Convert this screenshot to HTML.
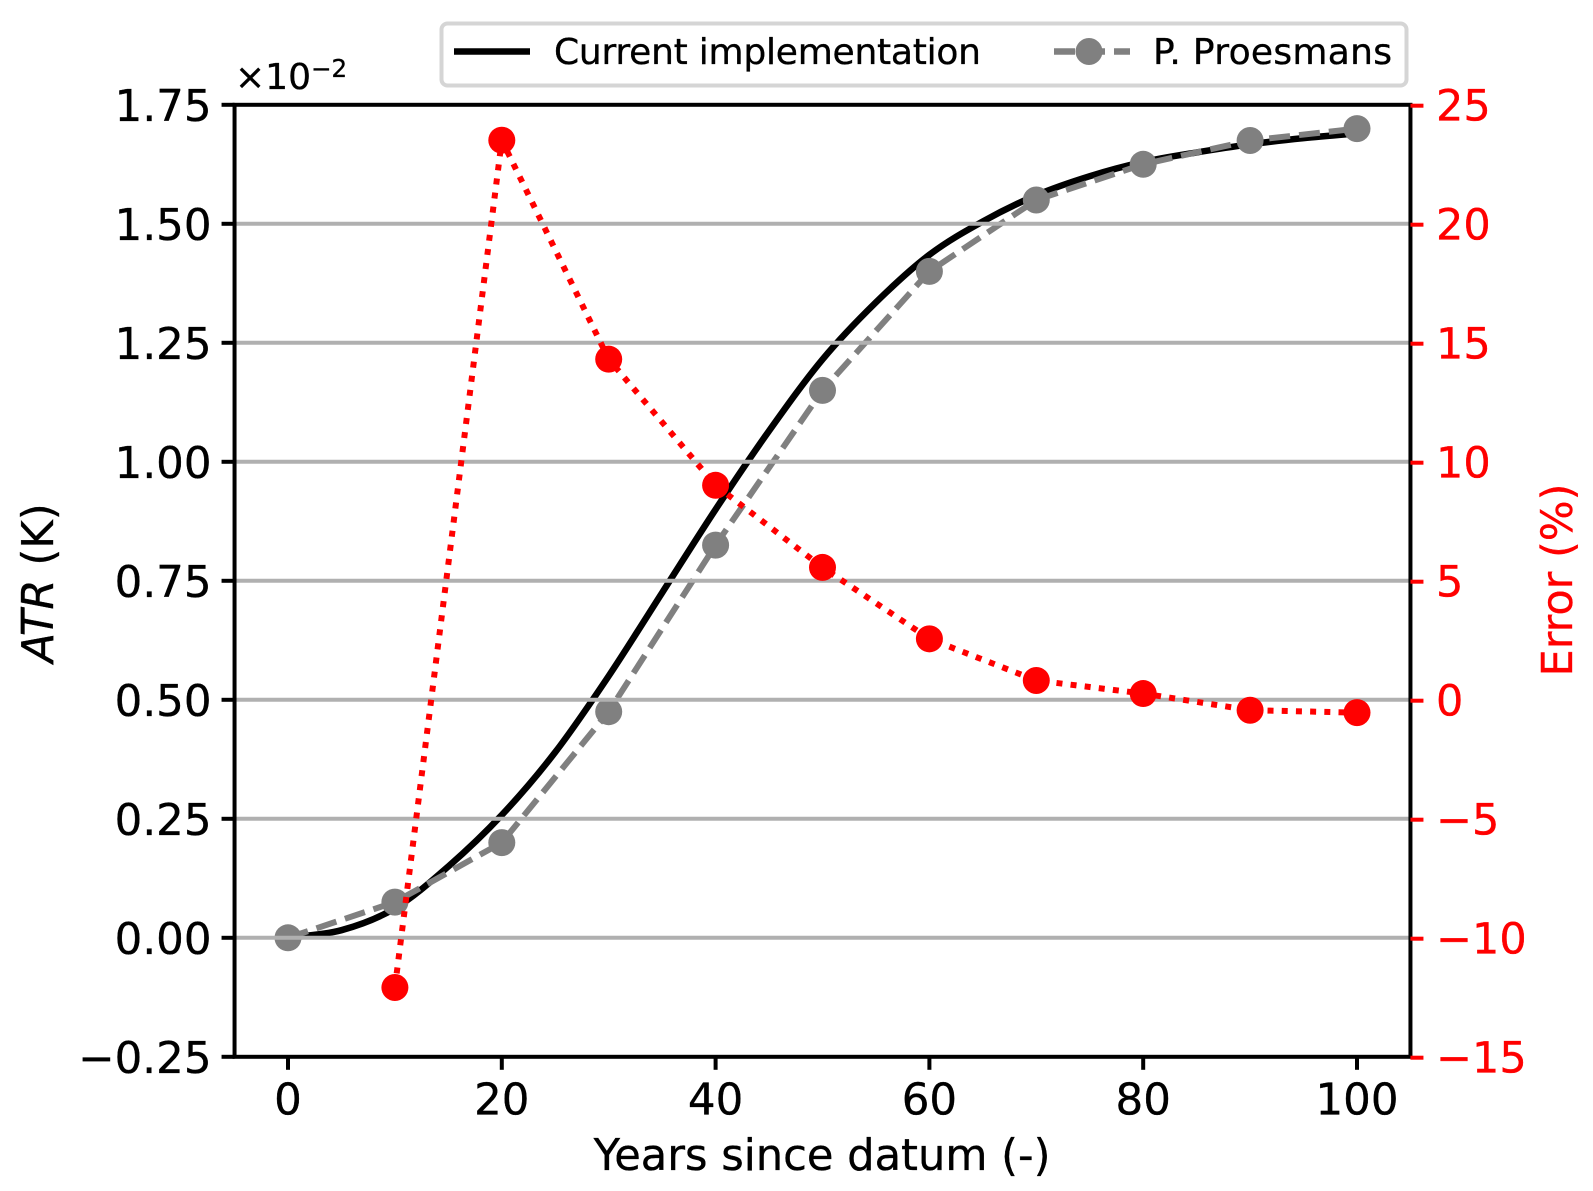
<!DOCTYPE html>
<html><head><meta charset="utf-8"><title>ATR chart</title>
<style>
html,body{margin:0;padding:0;background:#fff}
svg{display:block}
text{font-family:"DejaVu Sans","Liberation Sans",sans-serif;stroke-width:.35px}
</style></head>
<body>
<svg id="chart" xmlns="http://www.w3.org/2000/svg" width="1593" height="1191" viewBox="0 0 1593 1191">
<rect width="1593" height="1191" fill="#fff"/>
<g>
<rect x="441.5" y="23.5" width="965" height="62" rx="6" fill="#fff" stroke="#d5d5d5" stroke-width="4"/>
<line x1="454" x2="530" y1="51.5" y2="51.5" stroke="#000" stroke-width="6.5"/>
<text x="554" y="64" font-size="36" fill="#000" stroke="#000" textLength="427">Current implementation</text>
<line x1="1054" x2="1130" y1="51.5" y2="51.5" stroke="#808080" stroke-width="6.5" stroke-dasharray="21 9"/>
<circle cx="1089" cy="51.5" r="13.5" fill="#808080"/>
<text x="1153" y="64" font-size="36" fill="#000" stroke="#000" textLength="239">P. Proesmans</text>
</g>
<text x="235" y="89" font-size="36" fill="#000" stroke="#000">×10<tspan dy="-12" font-size="24.5">−2</tspan></text>
<text transform="translate(53,583) rotate(-90)" text-anchor="middle" font-size="43.4" fill="#000" stroke="#000"><tspan font-style="italic">ATR</tspan> (K)</text>
<text transform="translate(1572,580) rotate(-90)" text-anchor="middle" font-size="43" fill="#f00" stroke="#f00">Error (%)</text>
<text x="822" y="1170" text-anchor="middle" font-size="43.2" fill="#000" stroke="#000">Years since datum (-)</text>
</svg>
<script>
const xTicks = [0, 20, 40, 60, 80, 100];
const yTicks = [-0.25, 0, 0.25, 0.5, 0.75, 1, 1.25, 1.5, 1.75];
const yTickLabels = ["−0.25", "0.00", "0.25", "0.50", "0.75", "1.00", "1.25", "1.50", "1.75"];
const y2Ticks = [-15, -10, -5, 0, 5, 10, 15, 20, 25];
const y2TickLabels = ["−15", "−10", "−5", "0", "5", "10", "15", "20", "25"];
const currentYears = [0, 5, 10, 15, 20, 25, 30, 35, 40, 45, 50, 55, 60, 65, 70, 75, 80, 85, 90, 95, 100];
const currentValues = [0, 0.016, 0.062, 0.15, 0.258, 0.39, 0.55, 0.725, 0.9, 1.065, 1.215, 1.335, 1.435, 1.505, 1.56, 1.6, 1.63, 1.65, 1.667, 1.68, 1.69];
const proesmansYears = [0, 10, 20, 30, 40, 50, 60, 70, 80, 90, 100];
const proesmansValues = [0, 0.075, 0.2, 0.475, 0.825, 1.15, 1.4, 1.55, 1.625, 1.675, 1.7];
const errorYears = [10, 20, 30, 40, 50, 60, 70, 80, 90, 100];
const errorValues = [-12.05, 23.55, 14.35, 9.05, 5.6, 2.6, 0.85, 0.3, -0.4, -0.5];

const svg = document.getElementById('chart');
const NS = 'http://www.w3.org/2000/svg';
const X0 = 288, XPX = 10.69;
const YZERO = 937.8, YPX = 476;
const Y2ZERO = 700.7, Y2PX = 23.8;
const xScale = v => X0 + v * XPX;
const yScale = v => YZERO - v * YPX;
const y2Scale = v => Y2ZERO - v * Y2PX;
const LEFT = xScale(-5), RIGHT = xScale(105), TOP = yScale(1.75), BOTTOM = yScale(-0.25);

function make(tag, attrs, parent) {
  const el = document.createElementNS(NS, tag);
  for (const k in attrs) el.setAttribute(k, attrs[k]);
  (parent || svg).appendChild(el);
  return el;
}
function smoothPath(xs, ys) {
  const p = xs.map((x, i) => [xScale(x), yScale(ys[i])]);
  let d = 'M' + p[0][0] + ' ' + p[0][1];
  for (let i = 0; i < p.length - 1; i++) {
    const a = p[Math.max(i - 1, 0)], b = p[i], c = p[i + 1], e = p[Math.min(i + 2, p.length - 1)];
    d += ' C' + (b[0] + (c[0] - a[0]) / 6) + ' ' + (b[1] + (c[1] - a[1]) / 6) + ' ' +
      (c[0] - (e[0] - b[0]) / 6) + ' ' + (c[1] - (e[1] - b[1]) / 6) + ' ' + c[0] + ' ' + c[1];
  }
  return d;
}

const currentLine = make('path', {d: smoothPath(currentYears, currentValues), fill: 'none', stroke: '#000', 'stroke-width': 6.5});



const proesmansLine = make('polyline', {
  points: proesmansYears.map((x, i) => xScale(x) + ',' + yScale(proesmansValues[i])).join(' '),
  fill: 'none', stroke: '#808080', 'stroke-width': 6, 'stroke-dasharray': '21 9'});



proesmansYears.forEach((x, i) => {
  const m = make('circle', {cx: xScale(x), cy: yScale(proesmansValues[i]), r: 13.5, fill: '#808080'});
  
  
});

yTicks.forEach(v => {
  if (v === -0.25 || v === 1.75) return;
  const g = make('line', {x1: LEFT, x2: RIGHT, y1: yScale(v), y2: yScale(v), stroke: '#b0b0b0', 'stroke-width': 4});
  
  
});

const errorLine = make('polyline', {
  points: errorYears.map((x, i) => xScale(x) + ',' + y2Scale(errorValues[i])).join(' '),
  fill: 'none', stroke: '#f00', 'stroke-width': 6, 'stroke-dasharray': '6 8.2'});



errorYears.forEach((x, i) => {
  const m = make('circle', {cx: xScale(x), cy: y2Scale(errorValues[i]), r: 13.5, fill: '#f00'});
  
  
});

const frame = make('rect', {x: LEFT, y: TOP, width: RIGHT - LEFT, height: BOTTOM - TOP, fill: 'none', stroke: '#000', 'stroke-width': 4});



xTicks.forEach(v => {
  const t = make('line', {x1: xScale(v), x2: xScale(v), y1: BOTTOM, y2: BOTTOM + 13, stroke: '#000', 'stroke-width': 4});
  
  
  const l = make('text', {x: xScale(v), y: 1114.5, 'text-anchor': 'middle', 'font-size': 43.5, fill: '#000', stroke: '#000'});
  
  
  l.textContent = String(v);
});
yTicks.forEach((v, i) => {
  const t = make('line', {x1: LEFT - 13, x2: LEFT, y1: yScale(v), y2: yScale(v), stroke: '#000', 'stroke-width': 4});
  
  
  const l = make('text', {x: 211.5, y: yScale(v) + 16, 'text-anchor': 'end', 'font-size': 43.5, fill: '#000', stroke: '#000'});
  
  
  l.textContent = yTickLabels[i];
});
y2Ticks.forEach((v, i) => {
  const t = make('line', {x1: RIGHT, x2: RIGHT + 13, y1: y2Scale(v), y2: y2Scale(v), stroke: '#f00', 'stroke-width': 4});
  
  
  const l = make('text', {x: 1436, y: y2Scale(v) + 15, 'font-size': 43, fill: '#f00', stroke: '#f00'});
  
  
  l.textContent = y2TickLabels[i];
});
</script>
</body></html>
